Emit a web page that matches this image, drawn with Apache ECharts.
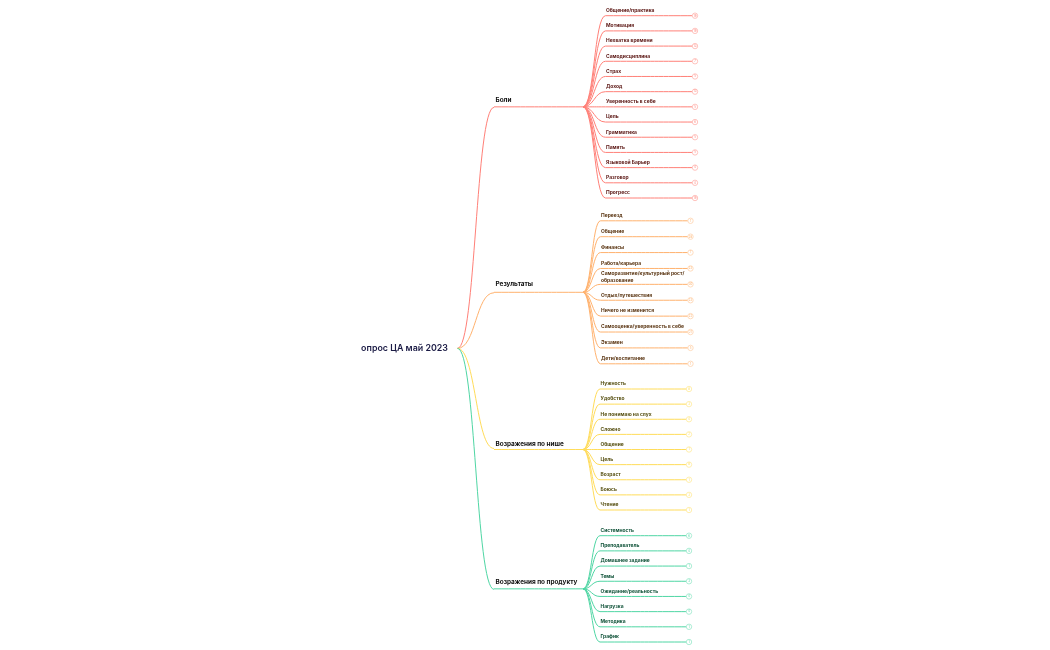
<!DOCTYPE html>
<html><head><meta charset="utf-8">
<style>html,body{margin:0;padding:0;background:#fff}#c{width:1050px;height:650px}</style>
<script src="https://cdn.jsdelivr.net/npm/echarts@6/dist/echarts.min.js"></script></head>
<body><div id="c"></div>
<script>
const rootName = 'опрос ЦА май 2023';
const branchNames = ['Боли','Результаты','Возражения по нише','Возражения по продукту'];
const painLeaves = ['Общение/практика','Мотивация','Нехватка времени','Самодисциплина','Страх','Доход','Уверенность в себе','Цель','Грамматика','Память','Языковой Барьер','Разговор','Прогресс'];
const painCounts = [19,19,13,7,5,13,5,6,5,5,4,4,19];
const resultLeaves = ['Переезд','Общение','Финансы','Работа/карьера','Саморазвитие/культурный рост/\nобразование','Отдых/путешествия','Ничего не изменится','Самооценка/уверенность в себе','Экзамен','Дети/воспитание'];
const resultCounts = [7,28,7,23,30,23,22,21,5,1];
const nicheLeaves = ['Нужность','Удобство','Не понимаю на слух','Сложно','Общение','Цель','Возраст','Боюсь','Чтение'];
const nicheCounts = [8,3,4,2,1,8,1,3,1];
const productLeaves = ['Системность','Преподаватель','Домашнее задание','Темы','Ожидание/реальность','Нагрузка','Методика','График'];
const productCounts = [6,4,1,3,4,4,1,1];
const leafSets = [painLeaves,resultLeaves,nicheLeaves,productLeaves];
const countSets = [painCounts,resultCounts,nicheCounts,productCounts];

// styling and layout
const FONT = 'Inter, "Noto Sans", sans-serif';
const lineColors = ['#ff8078','#ffb26e','#ffdc5a','#4fd6a4'];
const ringColors = ['#ffc4bf','#ffdcbd','#fff0b0','#aeeed6'];
const textColors = ['#5a1512','#5a3512','#575012','#0f5238'];
const boxes = [ // first and last leaf row, leaf start x, leaf end x, branch label lift
  {first:15.7,last:198,x0:605.5,x1:695,lift:8.8},
  {first:220.8,last:363.8,x0:600.5,x1:690.5,lift:10.3},
  {first:389,last:510,x0:600,x1:689,lift:7.5},
  {first:535.7,last:642,x0:600,x1:689,lift:9.6}
];
const BUNDLE_X = 583, BRANCH_X = 494, ROOT_X = 457.5;
const HIDDEN = {symbol:'circle',symbolSize:1,itemStyle:{color:'transparent',borderWidth:0},label:{show:false}};
const noLine = {lineStyle:{width:0,opacity:0}};

function base(extra){
  return Object.assign({type:'tree',orient:'LR',layout:'orthogonal',edgeShape:'curve',animation:false,
    expandAndCollapse:false,initialTreeDepth:-1,roam:false,silent:true,symbol:'circle',symbolSize:1,
    itemStyle:{color:'transparent',borderWidth:0},label:{show:false},leaves:{label:{show:false}},
    emphasis:{disabled:true},lineStyle:{width:1,curveness:0.5,color:'#ccc'}},extra);
}
const series = [];

// root to branches (the whole leaf set sets the branch rows)
const TRUNK_UNIT = 14.83, TRUNK_FIRST = 18.4;
const totalUnits = leafSets.reduce((s,l)=>s+l.length-1,0)+3*2+2;
series.push(base({left:ROOT_X,width:(BRANCH_X-ROOT_X)*2,top:TRUNK_FIRST-TRUNK_UNIT,height:TRUNK_UNIT*totalUnits,
  data:[Object.assign({},HIDDEN,{name:rootName,
    label:{show:true,position:'left',distance:9,formatter:rootName,color:'#1b1b45',fontFamily:FONT,fontSize:8.9,fontWeight:600},
    children:branchNames.map((b,i)=>Object.assign({},HIDDEN,{name:b,lineStyle:{color:lineColors[i],width:1},
      children:leafSets[i].map(n=>Object.assign({},HIDDEN,noLine,{name:n}))}))})]}));

branchNames.forEach((b,i)=>{
  const B = boxes[i], leaves = leafSets[i], n = leaves.length;
  const step = (B.last-B.first)/(n-1);
  const top = B.first-step/2, height = n*step;
  const c = lineColors[i];
  // horizontal run of the branch
  series.push(base({left:BRANCH_X,width:(BUNDLE_X-BRANCH_X)*2,top,height,
    data:[Object.assign({},HIDDEN,{name:b,
      label:{show:true,position:[2,-B.lift],formatter:b,color:'#111',fontFamily:FONT,fontSize:6.4,fontWeight:700},
      children:[Object.assign({},HIDDEN,{name:b+' ',lineStyle:{color:c,width:1},
        children:leaves.map(l=>Object.assign({},HIDDEN,noLine,{name:l}))})]})]}));
  // bundle of curves from the branch to each leaf
  series.push(base({left:BUNDLE_X,width:B.x0-BUNDLE_X,top,height,
    data:[Object.assign({},HIDDEN,{name:b,
      children:leaves.map(l=>Object.assign({},HIDDEN,{name:l,lineStyle:{color:c,width:1}}))})]}));
  // leaf underline, label and count ring
  const run = B.x1-B.x0;
  series.push(base({left:B.x0-run,width:run*2,top:B.first-step/4,height:(n-0.5)*step,
    data:[Object.assign({},HIDDEN,{name:b,
      children:leaves.map((l,k)=>Object.assign({},HIDDEN,noLine,{name:l,
        label:{show:true,position:l.includes('\n')?[1,-14]:[1,-8.2],formatter:l,color:textColors[i],fontFamily:FONT,fontSize:4.95,fontWeight:700,lineHeight:7},
        children:[{name:String(countSets[i][k]),symbol:'circle',symbolSize:5.4,
          lineStyle:{color:c,width:1},
          itemStyle:{color:'#fff',borderColor:ringColors[i],borderWidth:1},
          label:{show:true,position:'inside',formatter:String(countSets[i][k]),color:c,fontFamily:FONT,fontSize:2.8}}]
      }))})]}));
});

const chart = echarts.init(document.getElementById('c'),null,{renderer:'canvas'});
chart.setOption({backgroundColor:'#fff',animation:false,series});
</script></body></html>
